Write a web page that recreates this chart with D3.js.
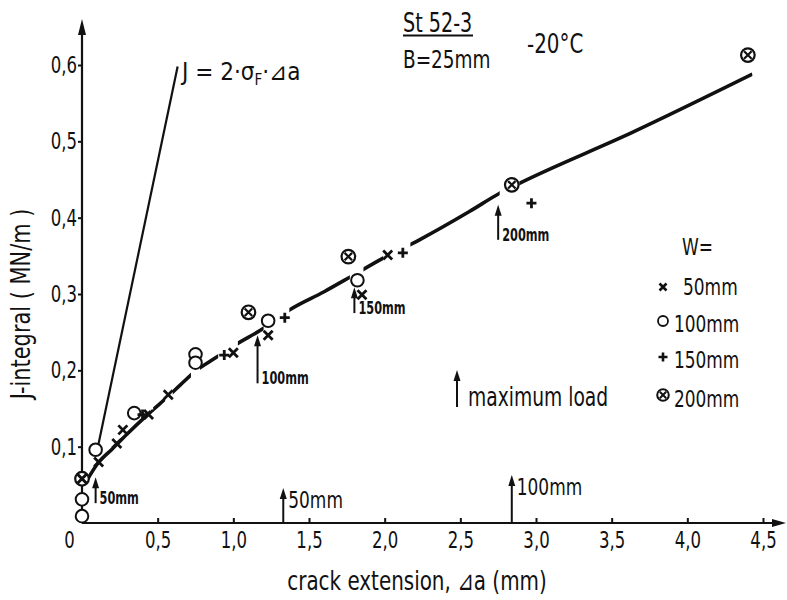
<!DOCTYPE html>
<html>
<head>
<meta charset="utf-8">
<script src="https://cdn.jsdelivr.net/npm/d3@7"></script>
<style>
  html, body { margin: 0; padding: 0; background: #fff; }
  svg { display: block; }
  text { font-family: 'Liberation Sans Narrow', 'DejaVu Sans Condensed', 'Liberation Sans', sans-serif; fill: #111; }
</style>
</head>
<body>
<svg id="chart" width="787" height="600"></svg>
<script>
// ---------- data ----------
const xTicks = [0, 0.5, 1.0, 1.5, 2.0, 2.5, 3.0, 3.5, 4.0, 4.5];
const xTickLabels = ["0", "0,5", "1,0", "1,5", "2,0", "2,5", "3,0", "3,5", "4,0", "4,5"];
const yTicks = [0.1, 0.2, 0.3, 0.4, 0.5, 0.6];
const yTickLabels = ["0,1", "0,2", "0,3", "0,4", "0,5", "0,6"];

// W = 50 mm (×)
const w50 = [[0.0, 0.058], [0.11, 0.080], [0.23, 0.104], [0.27, 0.122], [0.44, 0.142], [0.57, 0.168],
             [1.00, 0.223], [1.23, 0.246], [1.85, 0.299], [2.02, 0.351]];
// W = 100 mm (○)
const w100 = [[0.0, 0.009], [0.0, 0.031], [0.09, 0.096], [0.345, 0.144], [0.75, 0.221], [0.75, 0.210],
              [1.23, 0.265], [1.82, 0.318]];
// W = 150 mm (+)
const w150 = [[0.40, 0.142], [0.94, 0.220], [1.34, 0.269], [2.12, 0.354], [2.97, 0.419]];
// W = 200 mm (⊗)
const w200 = [[0.0, 0.058], [1.10, 0.276], [1.76, 0.349], [2.84, 0.443], [4.40, 0.613]];

// fitted resistance curve
const curvePts = [[0.03, 0.055], [0.10, 0.077], [0.20, 0.097], [0.30, 0.117], [0.45, 0.145], [0.57, 0.166],
                  [0.65, 0.181], [0.75, 0.199], [0.88, 0.216], [1.01, 0.233], [1.20, 0.255], [1.37, 0.279],
                  [1.60, 0.303], [1.77, 0.322], [1.99, 0.347], [2.23, 0.371], [2.56, 0.408], [2.76, 0.432],
                  [2.89, 0.445], [3.64, 0.512], [4.43, 0.588]];
// visible pieces of the curve (it is broken around the markers)
const curvePieces = [[0.03, 0.45], [0.47, 0.55], [0.60, 0.72], [0.78, 0.90], [1.03, 1.20],
                     [1.37, 1.77], [1.86, 1.99], [2.17, 2.76], [2.89, 4.43]];
// blunting line J = 2·σF·Δa
const bluntLine = [[0.10, 0.095], [0.632, 0.598]];

// maximum-load arrows: label, Δa, J at arrow foot, J at arrow tip
const maxLoadArrows = [
  { label: "50mm", x: 0.09, y0: 0.026, y1: 0.060, bold: true },
  { label: "100mm", x: 1.16, y0: 0.183, y1: 0.246, bold: true },
  { label: "150mm", x: 1.80, y0: 0.275, y1: 0.309, bold: true },
  { label: "200mm", x: 2.75, y0: 0.371, y1: 0.417, bold: true },
  { label: "50mm", x: 1.33, y0: 0.0, y1: 0.046, bold: false },
  { label: "100mm", x: 2.84, y0: 0.0, y1: 0.063, bold: false }
];

const legendLabels = ["50mm", "100mm", "150mm", "200mm"];

// ---------- drawing ----------
const svg = d3.select("#chart");
const x = d3.scaleLinear().domain([0, 4.5]).range([82, 763]);
const y = d3.scaleLinear().domain([0, 0.6]).range([523, 65]);

const defs = svg.append("defs");

// horizontally condense a text (to mimic the narrow DIN lettering)
function condense(sel, k) {
  sel.each(function () {
    const L = this.getComputedTextLength();
    this.setAttribute("textLength", (L * k).toFixed(1));
    this.setAttribute("lengthAdjust", "spacingAndGlyphs");
  });
  return sel;
}

// axes
const xAxis = svg.append("g").attr("transform", `translate(0,${y(0)})`)
  .call(d3.axisBottom(x).tickValues(xTicks).tickFormat((d, i) => xTickLabels[i]).tickSizeInner(-5).tickSizeOuter(0).tickPadding(12));
xAxis.select(".domain").remove();
xAxis.selectAll(".tick line").attr("stroke", "#111").attr("stroke-width", 2);
xAxis.selectAll(".tick text").attr("font-size", 23).attr("fill", "#111").attr("dy", "0.55em").attr("font-family", null);
xAxis.selectAll(".tick").filter(d => d === 0).select("text").attr("dx", -13);
xAxis.selectAll(".tick").filter(d => d === 0).select("line").remove();
condense(xAxis.selectAll(".tick text"), 0.8);

const yAxis = svg.append("g").attr("transform", `translate(${x(0)},0)`)
  .call(d3.axisLeft(y).tickValues(yTicks).tickFormat((d, i) => yTickLabels[i]).tickSizeInner(4).tickSizeOuter(0).tickPadding(1));
yAxis.select(".domain").remove();
yAxis.selectAll(".tick line").attr("stroke", "#111").attr("stroke-width", 2);
yAxis.selectAll(".tick text").attr("font-size", 23).attr("fill", "#111").attr("font-family", null);
condense(yAxis.selectAll(".tick text"), 0.8);

// axis lines with arrows
svg.append("line").attr("x1", x(0)).attr("x2", 775).attr("y1", y(0)).attr("y2", y(0))
  .attr("stroke", "#111").attr("stroke-width", 2.2);
svg.append("path").attr("d", `M786,${y(0)} L772,${y(0) - 4} L772,${y(0) + 4} Z`).attr("fill", "#111");
svg.append("line").attr("x1", x(0)).attr("x2", x(0)).attr("y1", y(0)).attr("y2", 32)
  .attr("stroke", "#111").attr("stroke-width", 2.2);
svg.append("path").attr("d", `M${x(0)},19 L${x(0) - 4},35 L${x(0) + 4},35 Z`).attr("fill", "#111");

// axis titles
condense(svg.append("text").attr("x", 417).attr("y", 590).attr("text-anchor", "middle").attr("font-size", 27)
  .text("crack extension, ⊿a (mm)"), 0.82);
condense(svg.append("text").attr("transform", "translate(30,304) rotate(-90)").attr("text-anchor", "middle").attr("font-size", 27)
  .text("J-integral ( MN/m )"), 0.86);

// blunting line
svg.append("line")
  .attr("x1", x(bluntLine[0][0])).attr("y1", y(bluntLine[0][1]))
  .attr("x2", x(bluntLine[1][0])).attr("y2", y(bluntLine[1][1]))
  .attr("stroke", "#111").attr("stroke-width", 2.2);
const eq = svg.append("text").attr("x", 182).attr("y", 80).attr("font-size", 24);
eq.append("tspan").text("J = 2·σ");
eq.append("tspan").attr("font-size", 15).attr("dy", 5).text("F");
eq.append("tspan").attr("dy", -5).text("·⊿a");

// fitted curve, clipped into pieces
const clip = defs.append("clipPath").attr("id", "pieces");
clip.selectAll("rect").data(curvePieces).join("rect")
  .attr("x", d => x(d[0])).attr("width", d => x(d[1]) - x(d[0]))
  .attr("y", 0).attr("height", 600);
const line = d3.line().x(d => x(d[0])).y(d => y(d[1])).curve(d3.curveMonotoneX);
svg.append("path").datum(curvePts).attr("d", line).attr("fill", "none")
  .attr("stroke", "#111").attr("stroke-width", 3.6).attr("clip-path", "url(#pieces)");

// markers
function drawCross(g, cx, cy, s, w) {
  g.append("path").attr("d", `M${cx - s},${cy - s}L${cx + s},${cy + s}M${cx - s},${cy + s}L${cx + s},${cy - s}`)
    .attr("stroke", "#111").attr("stroke-width", w).attr("fill", "none");
}
function drawPlus(g, cx, cy, s, w) {
  g.append("path").attr("d", `M${cx - s},${cy}L${cx + s},${cy}M${cx},${cy - s}L${cx},${cy + s}`)
    .attr("stroke", "#111").attr("stroke-width", w).attr("fill", "none");
}
function drawCircle(g, cx, cy, r, w) {
  g.append("circle").attr("cx", cx).attr("cy", cy).attr("r", r)
    .attr("fill", "#fff").attr("stroke", "#111").attr("stroke-width", w);
}
function drawOtimes(g, cx, cy, r, w) {
  drawCircle(g, cx, cy, r, w);
  const s = r * 0.55;
  drawCross(g, cx, cy, s, w);
}

const mk = svg.append("g");
w100.forEach(d => drawCircle(mk, x(d[0]), y(d[1]), 6.3, 2));
w200.forEach(d => drawOtimes(mk, x(d[0]), y(d[1]), 6.8, 2.2));
w50.forEach(d => drawCross(mk, x(d[0]), y(d[1]), 4.5, 2.8));
w150.forEach(d => drawPlus(mk, x(d[0]), y(d[1]), 5, 2.8));

// maximum-load arrows
function arrow(g, px, yFoot, yTip) {
  g.append("line").attr("x1", px).attr("x2", px).attr("y1", yFoot).attr("y2", yTip + 8)
    .attr("stroke", "#111").attr("stroke-width", 2);
  g.append("path").attr("d", `M${px},${yTip} L${px - 3.5},${yTip + 11} L${px + 3.5},${yTip + 11} Z`).attr("fill", "#111");
}
const ar = svg.append("g");
maxLoadArrows.forEach(a => {
  const px = x(a.x), yf = y(a.y0), yt = y(a.y1);
  arrow(ar, px, yf, yt);
  if (a.bold) {
    condense(ar.append("text").attr("x", px + 4).attr("y", yf + 1).attr("font-size", 17).attr("font-weight", "bold").text(a.label), 0.74);
  } else {
    condense(ar.append("text").attr("x", px + 5).attr("y", yt + 20).attr("font-size", 23).text(a.label), 0.82);
  }
});

// "maximum load" key
arrow(svg, 457, 407, 370);
condense(svg.append("text").attr("x", 468).attr("y", 406).attr("font-size", 26).text("maximum load"), 0.8);

// title block
condense(svg.append("text").attr("x", 403).attr("y", 32).attr("font-size", 26).text("St 52-3"), 0.82);
svg.append("line").attr("x1", 403).attr("x2", 473).attr("y1", 35.5).attr("y2", 35.5).attr("stroke", "#111").attr("stroke-width", 2);
condense(svg.append("text").attr("x", 403).attr("y", 68).attr("font-size", 25).text("B=25mm"), 0.82);
condense(svg.append("text").attr("x", 527).attr("y", 53).attr("font-size", 26).text("-20°C"), 0.85);

// legend
const lg = svg.append("g");
condense(lg.append("text").attr("x", 682).attr("y", 255).attr("font-size", 23).text("W="), 0.82);
const legY = [287, 321, 357, 395];
const legBase = [295, 332, 368, 407];
drawCross(lg, 663, legY[0], 3.5, 2.6);
drawCircle(lg, 663, legY[1], 5, 1.8);
drawPlus(lg, 663, legY[2], 4.5, 2.6);
drawOtimes(lg, 663, legY[3], 5.8, 2);
legendLabels.forEach((t, i) => {
  condense(lg.append("text").attr("x", i === 0 ? 683 : 674).attr("y", legBase[i]).attr("font-size", 23).text(t), 0.82);
});
</script>
</body>
</html>
